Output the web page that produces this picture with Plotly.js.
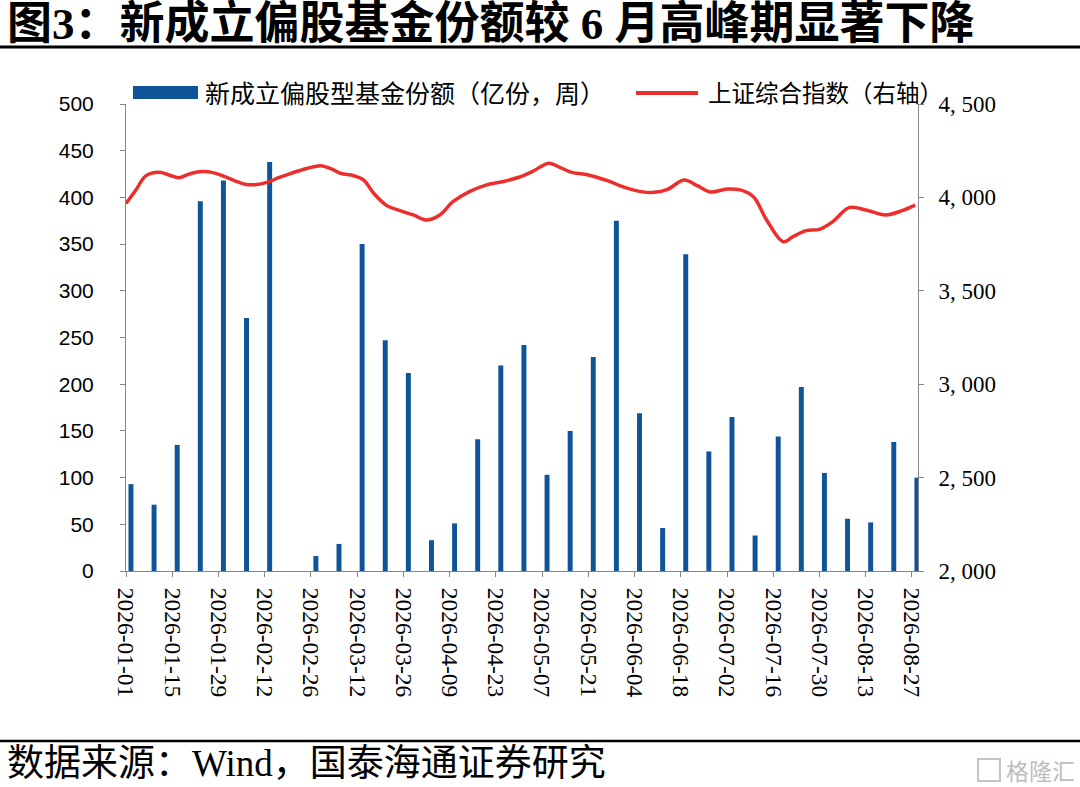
<!DOCTYPE html>
<html>
<head>
<meta charset="utf-8">
<script src="https://cdn.plot.ly/plotly-3.0.1.min.js"></script>
<style>
  html, body { margin: 0; padding: 0; background: #fff; }
  #chartdiv { width: 1080px; height: 787px; }
</style>
</head>
<body>
<div id="chartdiv"></div>
<script>
// weekly new equity-fund shares (亿份)
const weekDates = [
  '2026-01-01','2026-01-08','2026-01-15','2026-01-22','2026-01-29','2026-02-05','2026-02-12',
  '2026-02-19','2026-02-26','2026-03-05','2026-03-12','2026-03-19','2026-03-26','2026-04-02',
  '2026-04-09','2026-04-16','2026-04-23','2026-04-30','2026-05-07','2026-05-14','2026-05-21',
  '2026-05-28','2026-06-04','2026-06-11','2026-06-18','2026-06-25','2026-07-02','2026-07-09',
  '2026-07-16','2026-07-23','2026-07-30','2026-08-06','2026-08-13','2026-08-20','2026-08-27'
];
const fundShares = [
  93, 71, 135, 396, 418, 271, 438,
  0, 16, 29, 350, 247, 212, 33,
  51, 141, 220, 242, 103, 150, 229,
  375, 169, 46, 339, 128, 165, 38,
  144, 197, 105, 56, 52, 138, 100
];

// Shanghai composite (right axis)
const szDates = [
  '2026-01-01','2026-01-04','2026-01-07','2026-01-11','2026-01-14','2026-01-17','2026-01-20',
  '2026-01-24','2026-01-27','2026-01-30','2026-02-03','2026-02-06','2026-02-09','2026-02-13',
  '2026-02-16','2026-02-20','2026-02-25','2026-03-01','2026-03-04','2026-03-07','2026-03-11',
  '2026-03-14','2026-03-17','2026-03-21','2026-03-25','2026-03-29','2026-04-02','2026-04-06',
  '2026-04-10','2026-04-15','2026-04-20','2026-04-25','2026-04-30','2026-05-04','2026-05-09',
  '2026-05-12','2026-05-16','2026-05-21','2026-05-27','2026-06-01','2026-06-06','2026-06-10',
  '2026-06-14','2026-06-19','2026-06-23','2026-06-27','2026-07-02','2026-07-06','2026-07-10',
  '2026-07-14','2026-07-19','2026-07-22','2026-07-26','2026-07-30','2026-08-03','2026-08-08',
  '2026-08-13','2026-08-19','2026-08-24','2026-08-28'
];
const szValues = [
  3968, 4040, 4115, 4134, 4120, 4105, 4124,
  4138, 4134, 4118, 4089, 4070, 4068, 4082,
  4104, 4129, 4156, 4170, 4154, 4129, 4116,
  4093, 4022, 3956, 3929, 3906, 3879, 3906,
  3977, 4031, 4066, 4084, 4108, 4138, 4183,
  4164, 4134, 4120, 4088, 4054, 4031, 4027,
  4043, 4093, 4063, 4029, 4045, 4040, 4004,
  3879, 3763, 3790, 3822, 3829, 3870, 3945,
  3933, 3906, 3929, 3959
];

const leftTickVals = [0, 50, 100, 150, 200, 250, 300, 350, 400, 450, 500];
const rightTickVals = [2000, 2500, 3000, 3500, 4000, 4500];
const rightTickText = ['2, 000', '2, 500', '3, 000', '3, 500', '4, 000', '4, 500'];

const titleText = '图3：新成立偏股基金份额较 6 月高峰期显著下降';
const barName = '新成立偏股型基金份额（亿份，周）';
const lineName = '上证综合指数（右轴）';
const sourceText = '数据来源：Wind，国泰海通证券研究';

const DAY = 86400000;
const blue = '#0e5496';
const red = '#ec2f2c';
const axisGrey = '#858585';
const serif = 'Liberation Serif, Noto Sans CJK SC, serif';
const cjk = 'Noto Sans CJK SC, sans-serif';

const data = [
  {
    type: 'bar',
    name: barName,
    x: weekDates,
    y: fundShares,
    width: 1.5 * DAY,
    offset: 0.75 * DAY,
    marker: { color: blue, line: { width: 0 } },
    yaxis: 'y',
    hoverinfo: 'skip'
  },
  {
    type: 'scatter',
    mode: 'lines',
    name: lineName,
    x: szDates,
    y: szValues,
    line: { color: red, width: 3.5, shape: 'spline', smoothing: 1 },
    yaxis: 'y2',
    hoverinfo: 'skip'
  }
];

const layout = {
  width: 1080,
  height: 787,
  margin: { l: 126, r: 162, t: 104, b: 216 },
  paper_bgcolor: '#fff',
  plot_bgcolor: '#fff',
  showlegend: false,
  hovermode: false,
  xaxis: {
    type: 'date',
    range: ['2026-01-01', '2026-08-28 20:00'],
    tick0: '2026-01-01',
    dtick: 14 * DAY,
    tickformat: '%Y-%m-%d',
    tickangle: 90,
    ticks: 'outside',
    ticklen: 5,
    tickcolor: axisGrey,
    ticklabelstandoff: 6,
    tickfont: { family: serif, size: 23.5, color: '#000' },
    showline: true,
    linecolor: axisGrey,
    linewidth: 1,
    showgrid: false,
    zeroline: false
  },
  yaxis: {
    range: [0, 500],
    tickvals: leftTickVals,
    ticks: 'outside',
    ticklen: 5,
    tickcolor: axisGrey,
    ticklabelstandoff: 22,
    tickfont: { family: 'Liberation Sans, Arial, sans-serif', size: 21, color: '#000' },
    showline: true,
    linecolor: axisGrey,
    linewidth: 1,
    showgrid: false,
    zeroline: false
  },
  yaxis2: {
    overlaying: 'y',
    side: 'right',
    range: [2000, 4500],
    tickvals: rightTickVals,
    ticktext: rightTickText,
    ticks: 'outside',
    ticklen: 5,
    tickcolor: axisGrey,
    ticklabelstandoff: 10,
    tickfont: { family: serif, size: 23, color: '#000' },
    showline: true,
    linecolor: axisGrey,
    linewidth: 1,
    showgrid: false,
    zeroline: false
  },
  shapes: [
    // rule under the title
    { type: 'line', xref: 'paper', yref: 'paper', x0: -0.17, x1: 1.22, y0: 1.1221, y1: 1.1221,
      line: { color: '#000', width: 3 } },
    // rule above the source
    { type: 'line', xref: 'paper', yref: 'paper', x0: -0.17, x1: 1.22, y0: -0.364, y1: -0.364,
      line: { color: '#000', width: 2.5 } },
    // legend keys
    { type: 'rect', xref: 'paper', yref: 'paper', x0: 0.0088, x1: 0.0909, y0: 1.0107, y1: 1.0385,
      fillcolor: blue, line: { width: 0 } },
    { type: 'line', xref: 'paper', yref: 'paper', x0: 0.6439, x1: 0.7222, y0: 1.0236, y1: 1.0236,
      line: { color: red, width: 4 } },
    // watermark icon
    { type: 'rect', xref: 'paper', yref: 'paper', x0: 1.0758, x1: 1.1035, y0: -0.4497, y1: -0.4026,
      line: { color: '#c4c4c4', width: 2 } }
  ],
  annotations: [
    { xref: 'paper', yref: 'paper', x: -0.1528, y: 1.1713, xanchor: 'left', yanchor: 'middle',
      showarrow: false, text: '<b>' + titleText + '</b>',
      font: { family: serif, size: 45, color: '#000' } },
    { xref: 'paper', yref: 'paper', x: 0.0972, y: 1.0257, xanchor: 'left', yanchor: 'middle',
      showarrow: false, text: barName, font: { family: cjk, size: 25, color: '#000' } },
    { xref: 'paper', yref: 'paper', x: 0.7323, y: 1.0257, xanchor: 'left', yanchor: 'middle',
      showarrow: false, text: lineName, font: { family: cjk, size: 23.5, color: '#000' } },
    { xref: 'paper', yref: 'paper', x: -0.1528, y: -0.4604, xanchor: 'left', yanchor: 'bottom',
      showarrow: false, text: sourceText, font: { family: serif, size: 37, color: '#000' } },
    { xref: 'paper', yref: 'paper', x: 1.108, y: -0.4261, xanchor: 'left', yanchor: 'middle',
      showarrow: false, text: '格隆汇', font: { family: cjk, size: 23, color: '#bdbdbd' } }
  ]
};

const config = { displayModeBar: false, staticPlot: true };

Plotly.newPlot(chartdiv, data, layout, config);
</script>
</body>
</html>
